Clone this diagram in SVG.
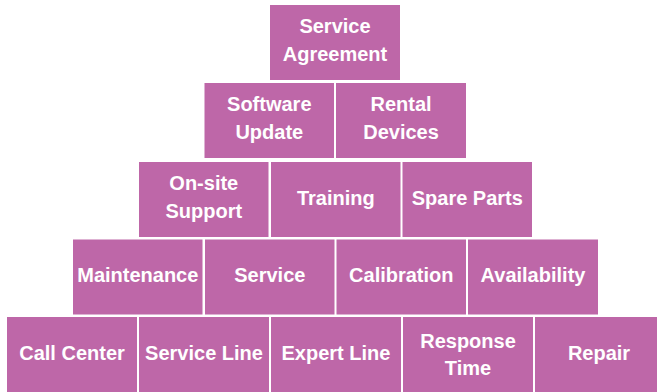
<svg xmlns="http://www.w3.org/2000/svg" width="657" height="392" viewBox="0 0 657 392">
  <style>
    .box { fill: #BE67A8; }
    .lbl { font-family: "Liberation Sans", Arial, sans-serif; font-weight: bold; font-size: 20px; fill: #FFFFFF; text-anchor: middle; }
  </style>
  <rect width="657" height="392" fill="#FFFFFF"/>

  <!-- Row 1 -->
  <g id="service-agreement">
    <rect class="box" x="270" y="5" width="130" height="75"/>
    <text class="lbl" x="335" y="33">Service</text>
    <text class="lbl" x="335" y="61">Agreement</text>
  </g>

  <!-- Row 2 -->
  <g id="software-update">
    <rect class="box" x="204.5" y="83" width="129.5" height="75"/>
    <text class="lbl" x="269.3" y="111">Software</text>
    <text class="lbl" x="269.3" y="139">Update</text>
  </g>
  <g id="rental-devices">
    <rect class="box" x="336" y="83" width="130" height="75"/>
    <text class="lbl" x="401" y="111">Rental</text>
    <text class="lbl" x="401" y="139">Devices</text>
  </g>

  <!-- Row 3 -->
  <g id="on-site-support">
    <rect class="box" x="139" y="162" width="129.5" height="75"/>
    <text class="lbl" x="203.8" y="190">On-site</text>
    <text class="lbl" x="203.8" y="218">Support</text>
  </g>
  <g id="training">
    <rect class="box" x="271" y="162" width="129.5" height="75"/>
    <text class="lbl" x="335.8" y="204.5">Training</text>
  </g>
  <g id="spare-parts">
    <rect class="box" x="402.5" y="162" width="129.5" height="75"/>
    <text class="lbl" x="467.3" y="204.5">Spare Parts</text>
  </g>

  <!-- Row 4 -->
  <g id="maintenance">
    <rect class="box" x="73" y="239.5" width="129.5" height="75"/>
    <text class="lbl" x="137.8" y="282">Maintenance</text>
  </g>
  <g id="service">
    <rect class="box" x="205" y="239.5" width="129.5" height="75"/>
    <text class="lbl" x="269.8" y="282">Service</text>
  </g>
  <g id="calibration">
    <rect class="box" x="336.5" y="239.5" width="129.5" height="75"/>
    <text class="lbl" x="401.3" y="282">Calibration</text>
  </g>
  <g id="availability">
    <rect class="box" x="468" y="239.5" width="130" height="75"/>
    <text class="lbl" x="533" y="282">Availability</text>
  </g>

  <!-- Row 5 -->
  <g id="call-center">
    <rect class="box" x="7" y="317" width="130" height="75"/>
    <text class="lbl" x="72" y="359.5">Call Center</text>
  </g>
  <g id="service-line">
    <rect class="box" x="139" y="317" width="130" height="75"/>
    <text class="lbl" x="204" y="359.5">Service Line</text>
  </g>
  <g id="expert-line">
    <rect class="box" x="271" y="317" width="130" height="75"/>
    <text class="lbl" x="336" y="359.5">Expert Line</text>
  </g>
  <g id="response-time">
    <rect class="box" x="403" y="317" width="130" height="75"/>
    <text class="lbl" x="468" y="348">Response</text>
    <text class="lbl" x="468" y="375">Time</text>
  </g>
  <g id="repair">
    <rect class="box" x="535" y="317" width="130" height="75"/>
    <text class="lbl" x="599" y="359.5">Repair</text>
  </g>

  <!-- No connectors in this diagram -->
  <g id="connectors"/>
</svg>
